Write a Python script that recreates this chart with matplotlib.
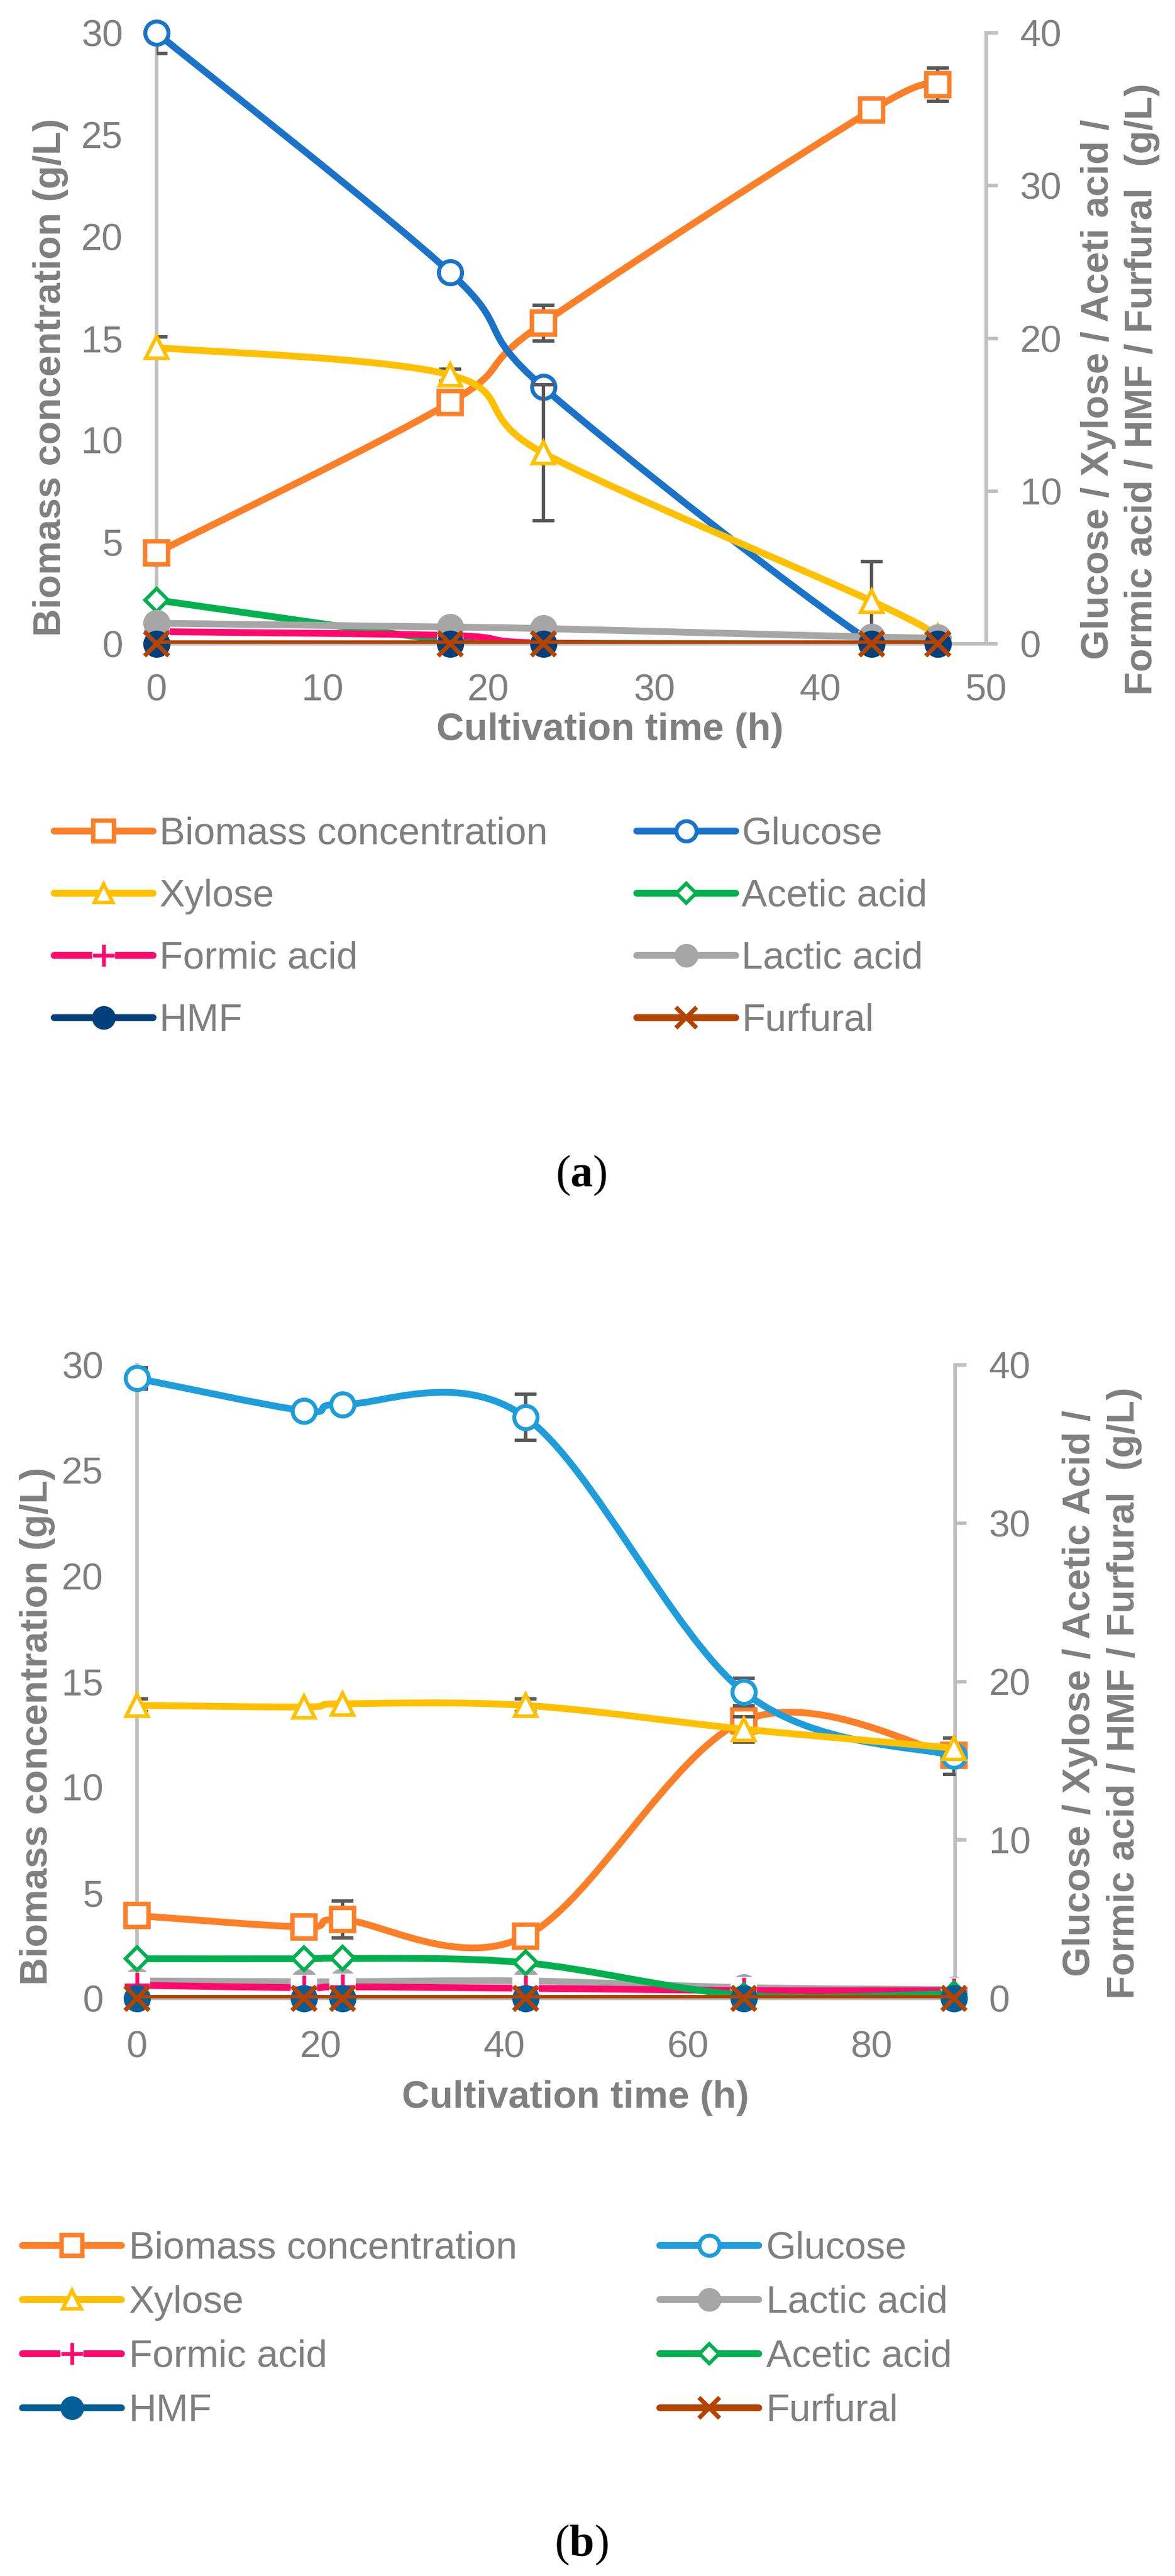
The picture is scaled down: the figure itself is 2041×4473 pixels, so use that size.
import matplotlib
matplotlib.use('Agg')
import matplotlib.pyplot as plt
from matplotlib.path import Path
from matplotlib.patches import PathPatch
from matplotlib.lines import Line2D
from matplotlib.legend_handler import HandlerTuple
import numpy as np

plt.rcParams['font.family'] = ['Liberation Sans', 'DejaVu Sans']
plt.rcParams['mathtext.fontset'] = 'custom'
plt.rcParams['mathtext.rm'] = 'Liberation Serif'
plt.rcParams['mathtext.bf'] = 'Liberation Serif:bold'

W, H, DPI = 2041, 4473, 100

# ---------------- data: panel (a) ----------------
time_a = [0, 17.7, 23.3, 43.1, 47.1]
biomass_a = [4.47, 11.85, 15.75, 26.2, 27.45]
biomass_a_err = [0.0, 0.0, 0.88, 0.0, 0.82]
glucose_a = [40.0, 24.3, 16.8, 0.1, 0.0]
glucose_a_err = [1.35, 0.0, 0.0, 0.0, 0.0]
xylose_a = [19.4, 17.6, 12.5, 2.8, 0.5]
xylose_a_err = [0.7, 0.4, 4.45, 2.6, 0.0]
acetic_a = [2.87, 0.2, 0.05, 0.0, 0.0]
formic_a = [0.8, 0.55, 0.05, 0.0, 0.0]
lactic_a = [1.35, 1.1, 1.0, 0.45, 0.4]
hmf_a = [0.0, 0.0, 0.0, 0.0, 0.0]
furfural_a = [0.0, 0.0, 0.0, 0.0, 0.0]

# ---------------- data: panel (b) ----------------
time_b = [0, 18.2, 22.4, 42.3, 66.1, 89.0]
biomass_b = [3.92, 3.38, 3.73, 2.94, 13.15, 11.5]
biomass_b_err = [0.0, 0.0, 0.87, 0.0, 0.35, 0.5]
glucose_b = [39.15, 37.1, 37.5, 36.7, 19.35, 15.3]
glucose_b_err = [0.67, 0.0, 0.0, 1.45, 0.88, 1.15]
xylose_b = [18.5, 18.4, 18.6, 18.5, 17.0, 15.8]
xylose_b_err = [0.4, 0.0, 0.0, 0.4, 0.8, 0.0]
lactic_b = [1.1, 1.05, 1.05, 1.1, 0.68, 0.55]
formic_b = [0.83, 0.67, 0.73, 0.64, 0.5, 0.48]
acetic_b = [2.5, 2.5, 2.53, 2.25, 0.2, 0.3]
hmf_b = [0.0, 0.0, 0.0, 0.0, 0.0, 0.0]
furfural_b = [0.0, 0.0, 0.0, 0.0, 0.0, 0.0]

GRAY_TXT = '#7F7F7F'
GRAY_AX = '#BFBFBF'
ERR = '#595959'
C_BIO = '#FD7F27'
C_GLU_A = '#1A73C8'
C_GLU_B = '#1E9DDA'
C_XYL = '#FFC000'
C_ACE = '#00B04F'
C_FOR = '#FF0A6C'
C_LAC = '#A6A6A6'
C_HMF_A = '#033F7B'
C_HMF_B = '#055E96'
C_FUR = '#B34400'
LW = 8.5


def smooth_path(x, y):
    pts = np.column_stack([x, y]).astype(float)
    n = len(pts)
    verts = [pts[0]]
    codes = [Path.MOVETO]
    for i in range(n - 1):
        p0 = pts[max(i - 1, 0)]
        p1 = pts[i]
        p2 = pts[i + 1]
        p3 = pts[min(i + 2, n - 1)]
        c1 = p1 + (p2 - p0) / 6.0
        c2 = p2 - (p3 - p1) / 6.0
        verts += [c1, c2, p2]
        codes += [Path.CURVE4] * 3
    return Path(verts, codes)


STY = {
    'bio': dict(marker='s', ms=29, mfc='white', mew=5.5),
    'glu': dict(marker='o', ms=29, mfc='white', mew=5),
    'xyl': dict(marker='^', ms=27, mfc='white', mew=4.5),
    'ace': dict(marker='D', ms=20, mfc='white', mew=4.5),
    'for': dict(marker='+', ms=31, mew=4.7),
    'lac': dict(marker='o', ms=34, mew=0),
    'hmf': dict(marker='o', ms=34, mew=0),
    'fur': dict(marker='x', ms=30, mew=5.5),
}
FOR_BOX = dict(marker='s', ms=33, mfc='white', mec='white', mew=0)


def series(ax, x, y, color, key, z, err=None, ecolor=ERR, elw=4.3, cap=13.7):
    if err is not None:
        idx = [i for i, e in enumerate(err) if e > 0]
        if idx:
            ax.errorbar([x[i] for i in idx], [y[i] for i in idx],
                        yerr=[err[i] for i in idx], fmt='none', ecolor=ecolor,
                        elinewidth=elw, capsize=cap, capthick=elw, zorder=z)
    patch = PathPatch(smooth_path(x, y), facecolor='none', edgecolor=color,
                      lw=LW, capstyle='round', joinstyle='round', zorder=z + 0.01)
    ax.add_patch(patch)
    if key == 'for':
        ax.plot(x, y, linestyle='none', clip_on=False, zorder=z + 0.015, **FOR_BOX)
    st = STY[key]
    ax.plot(x, y, linestyle='none', color=color, mec=color,
            clip_on=False, zorder=z + 0.02, **st)


def handle(color, key):
    st = STY[key]
    if key == 'for':
        base = Line2D([], [], color=color, lw=LW, solid_capstyle='round', **FOR_BOX)
        mark = Line2D([], [], color=color, linestyle='none', mec=color, **st)
        return (base, mark)
    return Line2D([], [], color=color, lw=LW, mec=color, solid_capstyle='round', **st)


def setup_axes(rect, xmax, xticks):
    ax = fig.add_axes(rect)
    ax2 = ax.twinx()
    ax.set_xlim(0, xmax)
    ax.set_ylim(0, 30)
    ax2.set_ylim(0, 40)
    ax.set_xticks(xticks)
    ax.set_yticks(range(0, 31, 5))
    ax2.set_yticks(range(0, 41, 10))
    for a in (ax, ax2):
        for s in a.spines.values():
            s.set_visible(False)
        a.patch.set_visible(False)
    ax.spines['left'].set_visible(True)
    ax.spines['bottom'].set_visible(True)
    ax2.spines['right'].set_visible(True)
    for s in (ax.spines['left'], ax.spines['bottom'], ax2.spines['right']):
        s.set_color(GRAY_AX)
        s.set_linewidth(4.5)
        s.set_zorder(0.5)
    ax.tick_params(axis='y', length=0, pad=42, labelsize=47, labelcolor=GRAY_TXT)
    ax.tick_params(axis='x', length=0, pad=37, labelsize=47, labelcolor=GRAY_TXT)
    ax2.tick_params(axis='y', direction='out', length=14.4, width=4.5, color=GRAY_AX,
                    pad=28, labelsize=47, labelcolor=GRAY_TXT)
    return ax, ax2


def px(x, y):
    return x / W, 1 - y / H


def legend(handles, names, x, y, colsp, labsp, pad):
    fig.legend(handles, names, loc='upper left', bbox_to_anchor=px(x, y),
               ncol=2, frameon=False, fontsize=48, handlelength=2.58, handletextpad=pad,
               columnspacing=colsp, labelspacing=labsp, borderpad=0, borderaxespad=0,
               labelcolor=GRAY_TXT, markerscale=0.87,
               handler_map={tuple: HandlerTuple(ndivide=1)})


fig = plt.figure(figsize=(W / DPI, H / DPI), dpi=DPI)

# ---------------- panel (a) ----------------
l, r, t, b = 272, 1713, 57, 1118
axA, axA2 = setup_axes([l / W, 1 - b / H, (r - l) / W, (b - t) / H], 50, range(0, 51, 10))
series(axA, time_a, biomass_a, C_BIO, 'bio', 2.0, biomass_a_err)
series(axA2, time_a, glucose_a, C_GLU_A, 'glu', 2.1, glucose_a_err)
series(axA2, time_a, xylose_a, C_XYL, 'xyl', 2.2, xylose_a_err)
series(axA2, time_a, acetic_a, C_ACE, 'ace', 2.3)
series(axA2, time_a, formic_a, C_FOR, 'for', 2.4)
series(axA2, time_a, lactic_a, C_LAC, 'lac', 2.5)
series(axA2, time_a, hmf_a, C_HMF_A, 'hmf', 2.6)
series(axA2, time_a, furfural_a, C_FUR, 'fur', 2.7)

hA = {'Biomass concentration': handle(C_BIO, 'bio'), 'Glucose': handle(C_GLU_A, 'glu'),
      'Xylose': handle(C_XYL, 'xyl'), 'Acetic acid': handle(C_ACE, 'ace'),
      'Formic acid': handle(C_FOR, 'for'), 'Lactic acid': handle(C_LAC, 'lac'),
      'HMF': handle(C_HMF_A, 'hmf'), 'Furfural': handle(C_FUR, 'fur')}
orderA = ['Biomass concentration', 'Xylose', 'Formic acid', 'HMF',
          'Glucose', 'Acetic acid', 'Lactic acid', 'Furfural']
legend([hA[k] for k in orderA], orderA, 94, 1418, 2.32, 0.69, 0.16)

fig.text(*px(105, 655), 'Biomass concentration (g/L)', rotation=90, rotation_mode='anchor',
         ha='center', va='baseline', fontsize=48, fontweight='bold', color=GRAY_TXT)
fig.text(*px(1925, 676), 'Glucose / Xylose / Aceti acid /', rotation=90, rotation_mode='anchor',
         ha='center', va='baseline', fontsize=48, fontweight='bold', color=GRAY_TXT)
fig.text(*px(2001, 676), 'Formic acid / HMF / Furfural  (g/L)', rotation=90, rotation_mode='anchor',
         ha='center', va='baseline', fontsize=48, fontweight='bold', color=GRAY_TXT)
fig.text(*px(1060, 1268), 'Cultivation time (h)', ha='center', va='center',
         fontsize=48, fontweight='bold', color=GRAY_TXT)
fig.text(*px(1010, 2041), r'($\mathbf{a}$)', ha='center', va='center', fontsize=56,
         family='Liberation Serif', color='black')

# ---------------- panel (b) ----------------
l, r, t, b = 238, 1659, 2370, 3470
axB, axB2 = setup_axes([l / W, 1 - b / H, (r - l) / W, (b - t) / H], 89.1, range(0, 81, 20))
axB.tick_params(axis='x', pad=40)
series(axB, time_b, biomass_b, C_BIO, 'bio', 2.0, biomass_b_err)
series(axB2, time_b, glucose_b, C_GLU_B, 'glu', 2.1, glucose_b_err)
series(axB2, time_b, xylose_b, C_XYL, 'xyl', 2.2, xylose_b_err)
series(axB2, time_b, lactic_b, C_LAC, 'lac', 2.3)
series(axB2, time_b, formic_b, C_FOR, 'for', 2.4)
series(axB2, time_b, acetic_b, C_ACE, 'ace', 2.5)
series(axB2, time_b, hmf_b, C_HMF_B, 'hmf', 2.6)
series(axB2, time_b, furfural_b, C_FUR, 'fur', 2.7)

hB = {'Biomass concentration': handle(C_BIO, 'bio'), 'Glucose': handle(C_GLU_B, 'glu'),
      'Xylose': handle(C_XYL, 'xyl'), 'Acetic acid': handle(C_ACE, 'ace'),
      'Formic acid': handle(C_FOR, 'for'), 'Lactic acid': handle(C_LAC, 'lac'),
      'HMF': handle(C_HMF_B, 'hmf'), 'Furfural': handle(C_FUR, 'fur')}
orderB = ['Biomass concentration', 'Xylose', 'Formic acid', 'HMF',
          'Glucose', 'Lactic acid', 'Acetic acid', 'Furfural']
legend([hB[k] for k in orderB], orderB, 39, 3874, 3.72, 0.48, 0.19)

fig.text(*px(82, 2997), 'Biomass concentration (g/L)', rotation=90, rotation_mode='anchor',
         ha='center', va='baseline', fontsize=48, fontweight='bold', color=GRAY_TXT)
fig.text(*px(1893, 2940), 'Glucose / Xylose / Acetic Acid /', rotation=90, rotation_mode='anchor',
         ha='center', va='baseline', fontsize=48, fontweight='bold', color=GRAY_TXT)
fig.text(*px(1970, 2940), 'Formic acid / HMF / Furfural  (g/L)', rotation=90, rotation_mode='anchor',
         ha='center', va='baseline', fontsize=48, fontweight='bold', color=GRAY_TXT)
fig.text(*px(999, 3643), 'Cultivation time (h)', ha='center', va='center',
         fontsize=48, fontweight='bold', color=GRAY_TXT)
fig.text(*px(1010, 4419), r'($\mathbf{b}$)', ha='center', va='center', fontsize=56,
         family='Liberation Serif', color='black')

fig.savefig('out.png', dpi=DPI)
